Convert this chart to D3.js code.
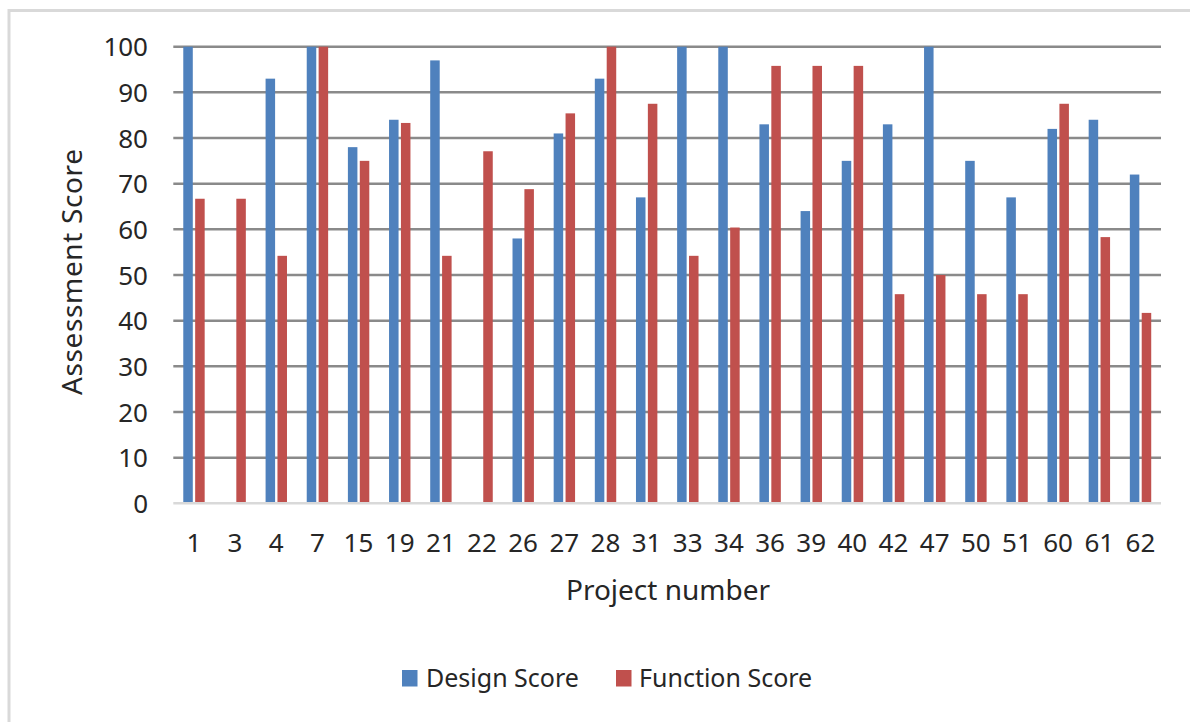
<!DOCTYPE html>
<html>
<head>
<meta charset="utf-8">
<script src="https://cdn.jsdelivr.net/npm/d3@7"></script>
<style>
  html, body { margin: 0; padding: 0; background: #ffffff; }
  svg { display: block; }
  text { font-family: "Noto Sans", "Open Sans", sans-serif; fill: #262626; }
</style>
</head>
<body>
<svg id="chart" width="1190" height="722"></svg>
<script>
// ---- data ----
const categories = ["1","3","4","7","15","19","21","22","26","27","28","31","33","34","36","39","40","42","47","50","51","60","61","62"];
const designScore   = [100, 0, 93, 100, 78, 84, 97, 0, 58, 81, 93, 67, 100, 100, 83, 64, 75, 83, 100, 75, 67, 82, 84, 72];
const functionScore = [66.7, 66.7, 54.2, 100, 75, 83.3, 54.2, 77.1, 68.8, 85.4, 100, 87.5, 54.2, 60.4, 95.8, 95.8, 95.8, 45.8, 50, 45.8, 45.8, 87.5, 58.3, 41.7];
const seriesNames = ["Design Score", "Function Score"];
const seriesColors = ["#4f81bd", "#c0504d"];
const yTicks = [0, 10, 20, 30, 40, 50, 60, 70, 80, 90, 100];

const svg = d3.select("#chart");

// outer chart frame (partially cropped on right/bottom)
svg.append("rect")
  .attr("x", 9).attr("y", 10.5)
  .attr("width", 1300).attr("height", 800)
  .attr("fill", "none").attr("stroke", "#d9d9d9").attr("stroke-width", 3);

const plot = { left: 173.3, right: 1161, top: 46.7, bottom: 503.3 };

const x = d3.scaleBand().domain(categories).range([plot.left, plot.right]).padding(0);
const y = d3.scaleLinear().domain([0, 100]).range([plot.bottom, plot.top]);
const xs = d3.scaleBand().domain(seriesNames).range([-10.6, 10.8]).paddingInner(0.2);

// gridlines
svg.append("g").selectAll("line")
  .data(yTicks.filter(d => d > 0))
  .join("line")
  .attr("x1", plot.left).attr("x2", plot.right)
  .attr("y1", d => y(d)).attr("y2", d => y(d))
  .attr("stroke", "#8a8a8a").attr("stroke-width", 2.5);

// y axis labels
const yAxis = d3.axisLeft(y).tickValues(yTicks).tickSize(0).tickPadding(0);
const gy = svg.append("g").attr("transform", `translate(148,0)`).call(yAxis);
gy.select(".domain").remove();
gy.selectAll("text")
  .attr("font-size", 26)
  .attr("font-family", "Noto Sans")
  .attr("fill", "#262626")
  .attr("dy", "0.35em");

// bars
const rows = categories.map((c, i) => ({ c, vals: [designScore[i], functionScore[i]] }));
const groups = svg.append("g").selectAll("g")
  .data(rows).join("g")
  .attr("transform", d => `translate(${x(d.c) + x.bandwidth() / 2},0)`);
groups.selectAll("rect")
  .data(d => d.vals.map((v, k) => ({ v, k })))
  .join("rect")
  .attr("x", d => xs(seriesNames[d.k]))
  .attr("width", xs.bandwidth())
  .attr("y", d => y(d.v))
  .attr("height", d => y(0) - y(d.v))
  .attr("fill", d => seriesColors[d.k]);

// baseline
svg.append("line")
  .attr("x1", plot.left).attr("x2", plot.right)
  .attr("y1", y(0)).attr("y2", y(0))
  .attr("stroke", "#d9d9d9").attr("stroke-width", 2.5);

// x axis labels
const xAxis = d3.axisBottom(x).tickSize(0).tickPadding(0);
const gx = svg.append("g").attr("transform", `translate(0,552)`).call(xAxis);
gx.select(".domain").remove();
gx.selectAll("text")
  .attr("font-size", 26)
  .attr("font-family", "Noto Sans")
  .attr("fill", "#262626")
  .attr("dy", "0");

// axis titles
svg.append("text")
  .attr("x", 668).attr("y", 600)
  .attr("text-anchor", "middle")
  .attr("font-size", 28)
  .text("Project number");

svg.append("text")
  .attr("transform", "translate(82,272) rotate(-90)")
  .attr("text-anchor", "middle")
  .attr("font-size", 28)
  .attr("textLength", 246)
  .attr("lengthAdjust", "spacing")
  .text("Assessment Score");

// legend
const legendItems = [
  { name: seriesNames[0], color: seriesColors[0], sx: 402, tx: 426 },
  { name: seriesNames[1], color: seriesColors[1], sx: 616, tx: 639 }
];
const lg = svg.append("g").selectAll("g").data(legendItems).join("g");
lg.append("rect")
  .attr("x", d => d.sx).attr("y", 670)
  .attr("width", 15.5).attr("height", 16.5)
  .attr("fill", d => d.color);
lg.append("text")
  .attr("x", d => d.tx).attr("y", 687)
  .attr("font-size", 25)
  .text(d => d.name);
</script>
</body>
</html>
